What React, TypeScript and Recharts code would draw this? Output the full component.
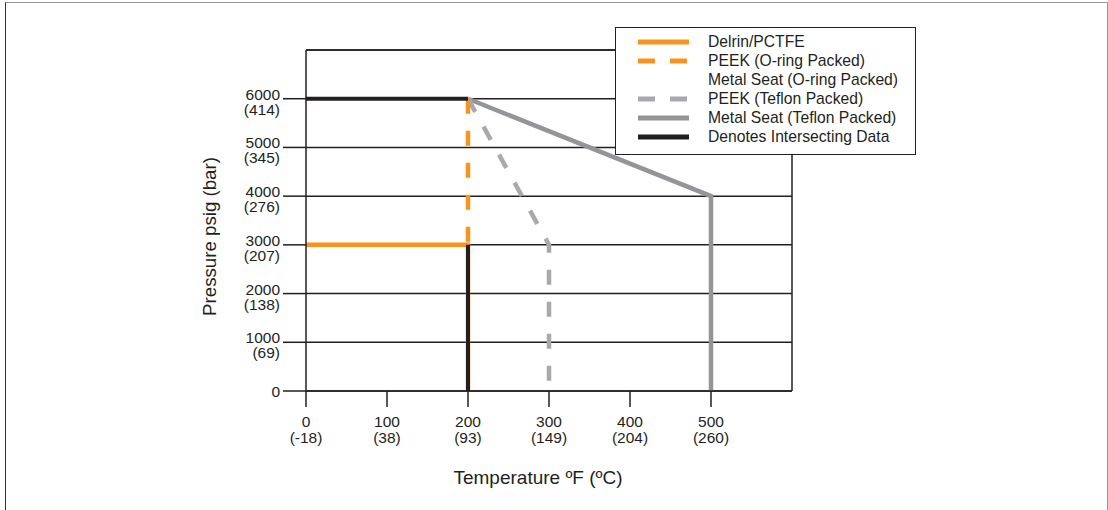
import { LineChart, Line, XAxis, YAxis, CartesianGrid, ReferenceLine } from "recharts";

const FONT = '"Liberation Sans", Arial, Helvetica, sans-serif';
const INK = "#231f20";
const ORANGE = "#f7941d";
const GRAY = "#939598";
const GRAY_DASH = "#a7a9ac";

// axis ticks (°F / psig) with their metric labels
const tempTicks = [0, 100, 200, 300, 400, 500];
const tempCelsius = ["(-18)", "(38)", "(93)", "(149)", "(204)", "(260)"];
const pressureTicks = [0, 1000, 2000, 3000, 4000, 5000, 6000];
const pressureBar = ["", "(69)", "(138)", "(207)", "(276)", "(345)", "(414)"];

// series: t = temperature °F, p = pressure psig
const delrin = [
  { t: 0, p: 3000 },
  { t: 200, p: 3000 },
  { t: 200, p: 0 },
];
const peekOring = [
  { t: 200, p: 6000 },
  { t: 200, p: 3000 },
];
const peekTeflon = [
  { t: 200, p: 6000 },
  { t: 300, p: 3000 },
  { t: 300, p: 0 },
];
const metalTeflon = [
  { t: 200, p: 6000 },
  { t: 500, p: 4000 },
  { t: 500, p: 0 },
];
const intersectTop = [
  { t: 0, p: 6000 },
  { t: 200, p: 6000 },
];
const intersectSide = [
  { t: 200, p: 3000 },
  { t: 200, p: 0 },
];

const legendItems = [
  { label: "Delrin/PCTFE", color: ORANGE, dash: "" },
  { label: "PEEK (O-ring Packed)", color: ORANGE, dash: "17 15" },
  { label: "Metal Seat (O-ring Packed)", color: "none", dash: "" },
  { label: "PEEK (Teflon Packed)", color: GRAY_DASH, dash: "17 15" },
  { label: "Metal Seat (Teflon Packed)", color: GRAY, dash: "" },
  { label: "Denotes Intersecting Data", color: INK, dash: "" },
];

function TempTick(props: any) {
  const { x, y, payload } = props;
  const i = tempTicks.indexOf(payload.value);
  return (
    <text textAnchor="middle" fontSize={15.5} fill={INK} fontFamily={FONT}>
      <tspan x={x} y={y + 20}>{payload.value}</tspan>
      <tspan x={x} y={y + 35.5}>{tempCelsius[i]}</tspan>
    </text>
  );
}

function PressureTick(props: any) {
  const { x, y, payload } = props;
  const i = pressureTicks.indexOf(payload.value);
  const sub = pressureBar[i];
  return (
    <text textAnchor="end" fontSize={15.5} fill={INK} fontFamily={FONT}>
      <tspan x={x} y={sub ? y + 1 : y + 5.5}>{payload.value}</tspan>
      {sub ? (
        <tspan x={x} y={y + 16}>
          {sub}
        </tspan>
      ) : null}
    </text>
  );
}

function XTitle(props: any) {
  const vb = props.viewBox || { x: 306, y: 391, width: 486, height: 40 };
  return (
    <text x={vb.x + vb.width / 2 - 11} y={vb.y + 92.5} textAnchor="middle" fontSize={19} fill={INK} fontFamily={FONT}>
      Temperature ºF (ºC)
    </text>
  );
}

function YTitle(props: any) {
  const vb = props.viewBox || { x: 246, y: 50, width: 60, height: 340 };
  const cx = vb.x + vb.width - 97;
  const cy = vb.y + vb.height / 2 + 16;
  return (
    <text
      x={cx}
      y={cy}
      transform={`rotate(-90, ${cx}, ${cy})`}
      textAnchor="middle"
      dominantBaseline="central"
      fontSize={18.7}
      fill={INK}
      fontFamily={FONT}
    >
      Pressure psig (bar)
    </text>
  );
}

function LegendBox() {
  return (
    <div
      style={{
        position: "absolute",
        left: 615,
        top: 27,
        width: 301,
        height: 128,
        boxSizing: "border-box",
        border: `1.5px solid ${INK}`,
        background: "#fff",
        padding: "4px 0 0 22px",
        fontFamily: FONT,
        fontSize: 15.7,
        color: INK,
      }}
    >
      {legendItems.map((item) => (
        <div key={item.label} style={{ display: "flex", alignItems: "center", height: 19 }}>
          <svg width={51} height={8} style={{ marginRight: 19 }}>
            <line
              x1={0}
              y1={4}
              x2={51}
              y2={4}
              stroke={item.color}
              strokeWidth={5}
              strokeDasharray={item.dash || undefined}
            />
          </svg>
          <span style={{ whiteSpace: "nowrap" }}>{item.label}</span>
        </div>
      ))}
    </div>
  );
}

export default function App() {
  const lineProps = {
    dataKey: "p",
    type: "linear" as const,
    dot: false,
    activeDot: false,
    isAnimationActive: false,
    strokeWidth: 4.5,
  };

  return (
    <div style={{ position: "absolute", left: 0, top: 0, width: 1108, height: 510, overflow: "hidden", background: "#fff" }}>
      <div
        style={{
          position: "absolute",
          left: 5,
          top: 2,
          width: 1103,
          height: 540,
          boxSizing: "border-box",
          borderLeft: "1.5px solid #333",
          borderTop: "1.5px solid #999",
          borderRight: "1.5px solid #999",
        }}
      />
      <div style={{ position: "absolute", left: 0, top: 0 }}>
        <LineChart width={1108} height={510} margin={{ top: 50, right: 316, bottom: 79, left: 246 }}>
          <CartesianGrid horizontal vertical={false} stroke={INK} strokeWidth={1.5} />
          <XAxis
            dataKey="t"
            type="number"
            domain={[0, 600]}
            ticks={tempTicks}
            height={40}
            tickSize={16}
            tickMargin={0}
            axisLine={{ stroke: INK, strokeWidth: 1.5 }}
            tickLine={{ stroke: INK, strokeWidth: 1.5 }}
            tick={<TempTick />}
            label={{ content: <XTitle /> }}
          />
          <YAxis
            dataKey="p"
            type="number"
            domain={[0, 7000]}
            ticks={pressureTicks}
            width={60}
            tickSize={23}
            tickMargin={3}
            axisLine={{ stroke: INK, strokeWidth: 1.5 }}
            tickLine={{ stroke: INK, strokeWidth: 1.5 }}
            tick={<PressureTick />}
            label={{ content: <YTitle /> }}
          />
          <ReferenceLine y={7000} stroke={INK} strokeWidth={1.5} />
          <ReferenceLine x={600} stroke={INK} strokeWidth={1.5} />
          <Line {...lineProps} data={metalTeflon} stroke={GRAY} name="Metal Seat (Teflon Packed)" />
          <Line {...lineProps} data={peekTeflon} stroke={GRAY_DASH} strokeDasharray="15 17" name="PEEK (Teflon Packed)" />
          <Line {...lineProps} data={delrin} stroke={ORANGE} name="Delrin/PCTFE" />
          <Line {...lineProps} data={peekOring} stroke={ORANGE} strokeDasharray="15 17" name="PEEK (O-ring Packed)" />
          <Line {...lineProps} data={intersectTop} stroke={INK} strokeWidth={4} name="Denotes Intersecting Data" />
          <Line {...lineProps} data={intersectSide} stroke={INK} strokeWidth={4} name="Denotes Intersecting Data" />
        </LineChart>
      </div>
      <LegendBox />
    </div>
  );
}
